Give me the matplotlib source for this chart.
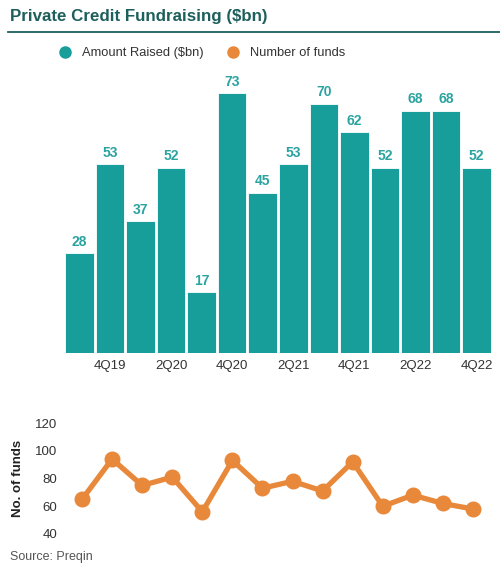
import matplotlib.pyplot as plt
from matplotlib.lines import Line2D

plt.rcParams['font.family'] = ['Liberation Sans', 'DejaVu Sans']

quarters = ['3Q19', '4Q19', '1Q20', '2Q20', '3Q20', '4Q20', '1Q21',
            '2Q21', '3Q21', '4Q21', '1Q22', '2Q22', '3Q22', '4Q22']
amount_raised = [28, 53, 37, 52, 17, 73, 45, 53, 70, 62, 52, 68, 68, 52]
num_funds = [65, 94, 75, 81, 56, 93, 73, 78, 71, 92, 60, 68, 62, 58]

teal = '#179d9a'
label_teal = '#2ba3a0'
orange = '#e8883a'
title_col = '#1d5f5c'
text_col = '#333333'

W, H = 500, 570
fig = plt.figure(figsize=(W / 100, H / 100), dpi=100)

def box(x0, y0, x1, y1):
    # pixel box (top-left origin) -> figure fraction
    return [x0 / W, 1 - y1 / H, (x1 - x0) / W, (y1 - y0) / H]

# title + rule
fig.text(10 / W, 1 - 17 / H, 'Private Credit Fundraising ($bn)', fontsize=12.2,
         fontweight='bold', color=title_col, va='center', ha='left')
fig.add_artist(Line2D([8 / W, 1], [1 - 32 / H, 1 - 32 / H], color=title_col, lw=1.3))

# legend
handles = [Line2D([], [], marker='o', ls='', color=teal, markersize=8, label='Amount Raised ($bn)'),
           Line2D([], [], marker='o', ls='', color=orange, markersize=8, label='Number of funds')]
fig.legend(handles=handles, loc='center', bbox_to_anchor=(0.398, 1 - 53 / H), ncol=2,
           frameon=False, fontsize=9.3, handletextpad=0.3, columnspacing=1.3,
           labelcolor=text_col)

# bars
ax = fig.add_axes(box(64, 68, 492, 353))
x = range(len(quarters))
bars = ax.bar(x, amount_raised, width=0.93, color=teal, edgecolor='white', linewidth=0.6)
for b, v in zip(bars, amount_raised):
    ax.text(b.get_x() + b.get_width() / 2, v + 1.2, str(v), ha='center', va='bottom',
            fontsize=10, fontweight='bold', color=label_teal)
ax.set_xlim(-0.5, len(quarters) - 0.5)
ax.set_ylim(0, 80)
ax.set_xticks(list(x)[1::2])
ax.set_xticklabels(quarters[1::2], fontsize=9.5, color=text_col)
ax.tick_params(axis='x', length=0, pad=5)
ax.set_yticks([])
for s in ax.spines.values():
    s.set_visible(False)

# line
ax2 = fig.add_axes(box(67, 423, 488, 534))
ax2.plot(list(x), num_funds, color=orange, lw=3.8, marker='o', markersize=10.5,
         clip_on=False)
ax2.set_xlim(-0.5, len(quarters) - 0.5)
ax2.set_ylim(40, 120)
ax2.set_yticks([40, 60, 80, 100, 120])
ax2.tick_params(axis='y', length=0, labelsize=9.5, labelcolor=text_col, pad=7)
ax2.set_xticks([])
ax2.set_ylabel('No. of funds', fontsize=9.5, fontweight='bold', color='#222222', labelpad=8)
for s in ax2.spines.values():
    s.set_visible(False)

fig.text(10 / W, 1 - 557 / H, 'Source: Preqin', fontsize=9, color='#555555',
         va='center', ha='left')

fig.savefig('out.png', dpi=100)
